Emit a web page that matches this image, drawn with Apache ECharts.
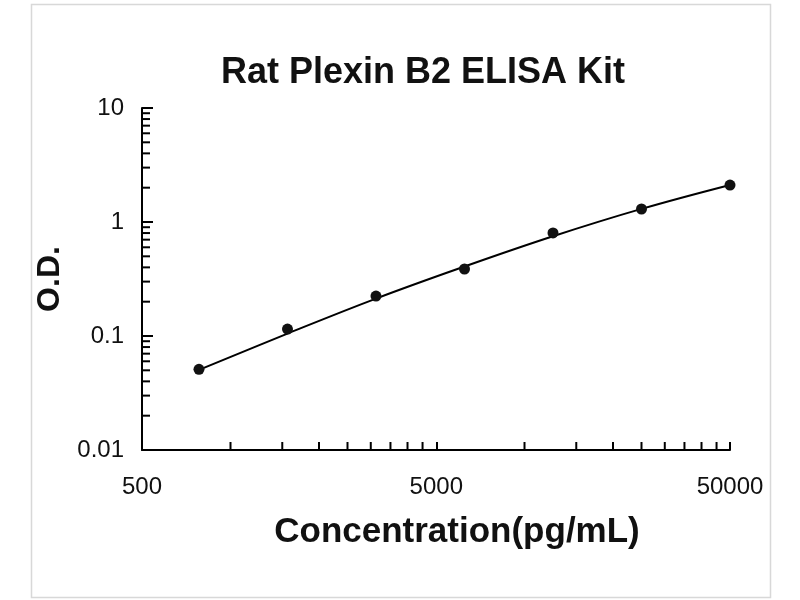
<!DOCTYPE html>
<html>
<head>
<meta charset="utf-8">
<title>Rat Plexin B2 ELISA Kit</title>
<script src="https://cdn.jsdelivr.net/npm/echarts@6/dist/echarts.min.js"></script>
<style>
	html, body { margin: 0; padding: 0; background: #fff; }
	#chart { width: 800px; height: 600px; }
</style>
</head>
<body>
<div id="chart"></div>
<script>
	// standard points
	var stdConc = [781.25, 1562.5, 3125, 6250, 12500, 25000, 50000];
	var stdOD = [0.051, 0.115, 0.224, 0.387, 0.802, 1.30, 2.11];

	// fitted curve at the standard concentrations
	var curveConc = [781.25, 1562.5, 3125, 6250, 12500, 25000, 50000];
	var curveOD = [0.0504, 0.105, 0.213, 0.407, 0.75, 1.303, 2.113];

	// minor ticks
	var xMinor = [1000, 1500, 2000, 2500, 3000, 3500, 4000, 4500,
		10000, 15000, 20000, 25000, 30000, 35000, 40000, 45000];
	var yMinor = [0.02, 0.03, 0.04, 0.05, 0.06, 0.07, 0.08, 0.09,
		0.2, 0.3, 0.4, 0.5, 0.6, 0.7, 0.8, 0.9,
		2, 3, 4, 5, 6, 7, 8, 9];

	var xMin = 500, xMax = 50000, yMin = 0.01, yMax = 10;

	function pairs(a, b) {
		return a.map(function(v, i) { return [v, b[i]]; });
	}

	function minorTick(dir, len) {
		return function(params, api) {
			var p = api.coord([api.value(0), api.value(1)]);
			var shape = dir === 'y' ?
				{ x1: p[0], y1: p[1], x2: p[0] + len, y2: p[1] } :
				{ x1: p[0], y1: p[1], x2: p[0], y2: p[1] - len };
			return {
				type: 'line',
				shape: shape,
				style: { stroke: '#000', lineWidth: 2 }
			};
		};
	}

	var font = '"Liberation Sans", Arial, sans-serif';

	var myChart = echarts.init(document.getElementById('chart'));
	myChart.setOption({
		animation: false,
		backgroundColor: '#fff',
		title: {
			text: 'Rat Plexin B2 ELISA Kit',
			left: 418,
			top: 50,
			textAlign: 'center',
			textStyle: {
				fontFamily: font,
				fontSize: 36,
				fontWeight: 'bold',
				color: '#111'
			}
		},
		graphic: [{
			type: 'rect',
			left: 29,
			top: 2,
			shape: { width: 739, height: 593 },
			style: { fill: 'none', stroke: '#d8d8d8', lineWidth: 1.5 },
			silent: true
		}],
		grid: {
			left: 142,
			right: 70,
			top: 108,
			bottom: 150
		},
		xAxis: {
			type: 'log',
			logBase: 10,
			min: xMin,
			max: xMax,
			interval: 1,
			name: 'Concentration(pg/mL)',
			nameLocation: 'middle',
			nameGap: 65,
			nameTextStyle: {
				fontFamily: font,
				fontSize: 35,
				fontWeight: 'bold',
				color: '#111',
				padding: [0, 0, 0, 42]
			},
			axisLine: { lineStyle: { color: '#000', width: 2 } },
			axisTick: { inside: true, length: 8, lineStyle: { color: '#000', width: 2 } },
			axisLabel: {
				margin: 25,
				fontFamily: font,
				fontSize: 24,
				color: '#111',
				formatter: function(v) { return String(Number(v.toPrecision(1))); }
			},
			splitLine: { show: false }
		},
		yAxis: {
			type: 'log',
			logBase: 10,
			min: yMin,
			max: yMax,
			name: 'O.D.',
			nameLocation: 'middle',
			nameRotate: 90,
			nameGap: 58,
			nameTextStyle: {
				fontFamily: font,
				fontSize: 32,
				fontWeight: 'bold',
				color: '#111'
			},
			axisLine: { lineStyle: { color: '#000', width: 2 } },
			axisTick: { inside: true, length: 11, lineStyle: { color: '#000', width: 2 } },
			axisLabel: {
				margin: 18,
				fontFamily: font,
				fontSize: 24,
				color: '#111'
			},
			splitLine: { show: false }
		},
		series: [{
			name: 'x minor',
			type: 'custom',
			renderItem: minorTick('x', 8),
			data: xMinor.map(function(v) { return [v, yMin]; }),
			clip: false,
			silent: true
		}, {
			name: 'y minor',
			type: 'custom',
			renderItem: minorTick('y', 8),
			data: yMinor.map(function(v) { return [xMin, v]; }),
			clip: false,
			silent: true
		}, {
			name: 'fit',
			type: 'line',
			smooth: 0.4,
			showSymbol: false,
			lineStyle: { color: '#000', width: 2 },
			data: pairs(curveConc, curveOD),
			z: 3
		}, {
			name: 'standard',
			type: 'scatter',
			symbolSize: 11,
			itemStyle: { color: '#111', opacity: 1 },
			data: pairs(stdConc, stdOD),
			z: 4
		}]
	});
</script>
</body>
</html>
